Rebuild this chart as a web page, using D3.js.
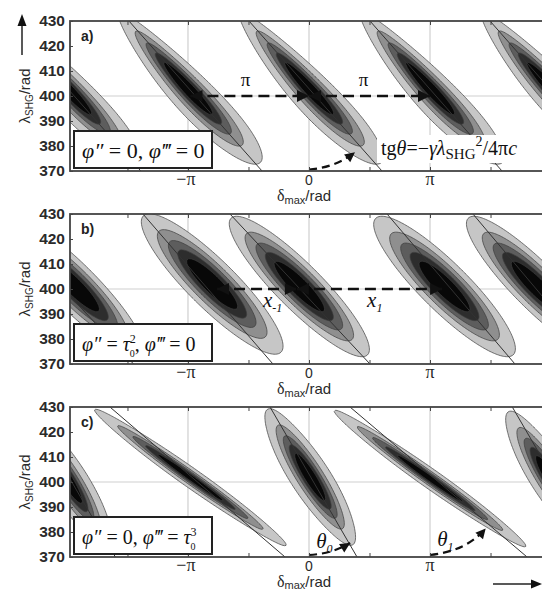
<!DOCTYPE html>
<html>
<head>
<meta charset="utf-8">
<script src="https://cdn.jsdelivr.net/npm/d3@7"></script>
<style>
  body { margin: 0; background: #fff; }
  svg { display: block; }
</style>
</head>
<body>
<svg id="chart" width="542" height="591"></svg>
<script>
const PI = Math.PI;

// δ_max ticks (units of π), gridlines and labelled ticks
const xTickPi = [-1.5, -1, -0.5, 0, 0.5, 1, 1.5];
const xGridPi = [-1, 0, 1];
const xLabelText = ["−π", "0", "π"];
// λ_SHG ticks (nm)
const yTicks = [370, 380, 390, 400, 410, 420, 430];
const yGrid = [400];

// contour levels (fraction of peak) and their fills
const contourLevels = [0.08, 0.22, 0.38, 0.55, 0.72];
const contourFills = ["#c6c6c6", "#8f8f8f", "#5d5d5d", "#2d2d2d", "#080808"];

// spectrogram lobes:
// [δ centre / π, λ centre (nm), σ_λ (nm), σ_δ (rad), tilt (rad/nm), amplitude, taper, halo share]
const lobesA = [
  [-2, 403, 12, 0.20, 0.0576, 1, 0.12, 0.35],
  [-1, 403, 12, 0.20, 0.0576, 1, 0.12, 0.35],
  [ 0, 403, 12, 0.20, 0.0576, 1, 0.12, 0.35],
  [ 1, 403, 12, 0.20, 0.0576, 1, 0.12, 0.35],
  [ 2, 403, 12, 0.20, 0.0576, 1, 0.12, 0.35]
];
const lobesB = [
  [-1.94, 401, 12.5, 0.36, 0.058, 1, 0, 0],
  [-0.80, 402, 12.5, 0.38, 0.058, 1, 0, 0],
  [-0.08, 401, 12.5, 0.36, 0.058, 1, 0, 0],
  [ 1.12, 401, 12.5, 0.38, 0.058, 1, 0, 0],
  [ 1.88, 401, 12.5, 0.36, 0.058, 1, 0, 0]
];
const lobesC = [
  [-2.00, 401,   11, 0.18, 0.0383, 1, 0, 0.3],
  [-0.98, 401.8, 11, 0.13, 0.090,  1, 0, 0.3],
  [ 0.01, 402,   11, 0.18, 0.0383, 1, 0, 0.3],
  [ 1.00, 401.4, 11, 0.13, 0.090,  1, 0, 0.3],
  [ 2.00, 401,   11, 0.18, 0.0383, 1, 0, 0.3]
];

// tilt lines: [δ/π at λ=430, δ/π at λ=370]
const linesA = [[-2.49, -1.39], [-1.488, -0.388], [-0.496, 0.603], [0.504, 1.595], [1.496, 2.587]];
const linesB = [[-2.61, -1.45], [-1.372, -0.298], [-0.653, 0.504], [0.645, 1.702], [1.355, 2.40]];
const linesC = [[-2.32, -1.60], [-1.645, -0.198], [-0.322, 0.397], [0.339, 1.802], [1.68, 2.40]];

// dashed double-headed arrows at λ = 400: [from δ/π, to δ/π]
const spansA = [[-0.98, 0], [0, 1]];
const spansB = [[-0.76, -0.1], [-0.1, 1.1]];

// curved angle arrows: [start, control, end] as [δ/π, λ]
const arcsA = [[[0, 370.6], [0.22, 371.4], [0.38, 377.5]]];
const arcsC = [
  [[0.0, 370.8], [0.2, 371.4], [0.34, 375.6]],
  [[1.0, 370.8], [1.3, 372.3], [1.46, 381.4]]
];

const svg = d3.select("#chart");
const plotLeft = 70, plotRight = 548, plotH = 150;
const x = d3.scaleLinear().domain([-1.975 * PI, 1.975 * PI]).range([plotLeft, plotRight]);

const serif = "'Liberation Serif', 'DejaVu Serif', serif";
const sans = "'Liberation Sans', Arial, sans-serif";

// sheared Gaussian lobes, each a narrow core plus a wider halo across δ
function field(lobes, d, l) {
  let s = 0;
  for (const [cd, cl, sl, sd, k, a, t, h] of lobes) {
    const v = l - cl;
    const u = d - cd * PI + k * v;
    const w = sd * Math.exp(-t * v / sl);
    const core = Math.exp(-0.5 * (v * v / (sl * sl) + u * u / (w * w)));
    const sl2 = sl * 1.3, w2 = w * 2;
    const halo = Math.exp(-0.5 * (v * v / (sl2 * sl2) + u * u / (w2 * w2)));
    s += a * ((1 - h) * core + h * halo);
  }
  return s;
}

function arrowHead(g, tip, from, len, half) {
  const dx = tip[0] - from[0], dy = tip[1] - from[1];
  const n = Math.hypot(dx, dy) || 1;
  const ux = dx / n, uy = dy / n;
  const bx = tip[0] - ux * len, by = tip[1] - uy * len;
  g.append("path")
    .attr("d", `M${tip[0]},${tip[1]}L${bx - uy * half},${by + ux * half}L${bx + uy * half},${by - ux * half}Z`)
    .attr("fill", "#111");
}

const panels = [
  { key: "a)", top: 21, lobes: lobesA, lines: linesA, spans: spansA, arcs: arcsA },
  { key: "b)", top: 214, lobes: lobesB, lines: linesB, spans: spansB, arcs: [] },
  { key: "c)", top: 407, lobes: lobesC, lines: linesC, spans: [], arcs: arcsC }
];

panels.forEach((p, idx) => {
  const y = d3.scaleLinear().domain([370, 430]).range([p.top + plotH, p.top]);
  const g = svg.append("g");
  const clipId = "clip" + idx;
  svg.append("clipPath").attr("id", clipId)
    .append("rect").attr("x", plotLeft).attr("y", p.top)
    .attr("width", plotRight - plotLeft).attr("height", plotH);
  const plot = g.append("g").attr("clip-path", `url(#${clipId})`);

  // grid
  plot.selectAll(".gx").data(xGridPi).join("line")
    .attr("x1", d => x(d * PI)).attr("x2", d => x(d * PI))
    .attr("y1", p.top).attr("y2", p.top + plotH)
    .attr("stroke", "#cfcfcf").attr("stroke-width", 1.2);
  plot.selectAll(".gy").data(yGrid).join("line")
    .attr("x1", plotLeft).attr("x2", plotRight)
    .attr("y1", d => y(d)).attr("y2", d => y(d))
    .attr("stroke", "#cfcfcf").attr("stroke-width", 1.2);

  // sampled intensity grid -> filled contours
  const step = 1.5;
  const nx = Math.ceil((plotRight - plotLeft) / step) + 2;
  const ny = Math.ceil(plotH / step) + 2;
  const values = new Float64Array(nx * ny);
  for (let j = 0; j < ny; j++) {
    const lam = y.invert(p.top + j * step);
    for (let i = 0; i < nx; i++) {
      values[j * nx + i] = field(p.lobes, x.invert(plotLeft + i * step), lam);
    }
  }
  const bands = d3.contours().size([nx, ny]).thresholds(contourLevels)(values);
  const proj = d3.geoIdentity().scale(step).translate([plotLeft - step / 2, p.top - step / 2]);
  const gp = d3.geoPath(proj);
  plot.selectAll(".band").data(bands).join("path")
    .attr("d", gp)
    .attr("fill", (d, i) => contourFills[i])
    .attr("stroke", "#3c3c3c").attr("stroke-width", 0.7);

  // tilt lines
  plot.selectAll(".tilt").data(p.lines).join("line")
    .attr("x1", d => x(d[0] * PI)).attr("y1", y(430))
    .attr("x2", d => x(d[1] * PI)).attr("y2", y(370))
    .attr("stroke", "#333").attr("stroke-width", 1);

  // dashed double arrows
  p.spans.forEach(([a, b]) => {
    const yy = y(400);
    plot.append("line")
      .attr("x1", x(a * PI)).attr("x2", x(b * PI)).attr("y1", yy).attr("y2", yy)
      .attr("stroke", "#111").attr("stroke-width", 2.6).attr("stroke-dasharray", "11,6");
    arrowHead(plot, [x(a * PI), yy], [x(b * PI), yy], 12, 6);
    arrowHead(plot, [x(b * PI), yy], [x(a * PI), yy], 12, 6);
  });

  // angle arcs
  p.arcs.forEach(([s, c, e]) => {
    const P = pt => [x(pt[0] * PI), y(pt[1])];
    const ps = P(s), pc = P(c), pe = P(e);
    const path = d3.path();
    path.moveTo(ps[0], ps[1]);
    path.quadraticCurveTo(pc[0], pc[1], pe[0], pe[1]);
    plot.append("path").attr("d", path.toString())
      .attr("fill", "none").attr("stroke", "#111").attr("stroke-width", 2.2)
      .attr("stroke-dasharray", "8,5");
    arrowHead(plot, pe, pc, 10, 5);
  });

  // frame
  g.append("rect").attr("x", plotLeft).attr("y", p.top)
    .attr("width", plotRight - plotLeft).attr("height", plotH)
    .attr("fill", "none").attr("stroke", "#444").attr("stroke-width", 1.8);

  // inner ticks
  const tx = xTickPi.map(v => v * PI);
  g.append("g").attr("transform", `translate(0,${p.top + plotH})`)
    .call(d3.axisBottom(x).tickValues(tx).tickSize(-4).tickFormat(""))
    .call(a => a.select(".domain").remove())
    .selectAll("line").attr("stroke", "#444");
  g.append("g").attr("transform", `translate(0,${p.top})`)
    .call(d3.axisTop(x).tickValues(tx).tickSize(-4).tickFormat(""))
    .call(a => a.select(".domain").remove())
    .selectAll("line").attr("stroke", "#444");
  const ya = g.append("g").attr("transform", `translate(${plotLeft},0)`)
    .call(d3.axisLeft(y).tickValues(yTicks).tickSize(-3).tickPadding(5));
  ya.select(".domain").remove();
  ya.selectAll("line").attr("stroke", "#444");
  ya.selectAll("text").attr("font-family", sans).attr("font-size", 15.5)
    .attr("fill", "#2a2a2a").attr("font-weight", 600);

  // x tick labels
  g.selectAll(".xl").data(xGridPi).join("text")
    .attr("x", d => x(d * PI) + (d === -1 ? -2 : 0)).attr("y", p.top + plotH + 13.5)
    .attr("text-anchor", "middle")
    .attr("font-family", (d) => d === 0 ? sans : serif)
    .attr("font-size", (d) => d === 0 ? 14 : 18)
    .attr("fill", "#2a2a2a")
    .text((d, i) => xLabelText[i]);

  // x title
  const xt = g.append("text").attr("x", 277).attr("y", Math.min(p.top + plotH + 30, 586.5))
    .attr("font-family", sans).attr("font-size", 15).attr("fill", "#2a2a2a");
  xt.append("tspan").attr("font-family", serif).attr("font-size", 16).text("δ");
  xt.append("tspan").attr("font-size", 11).attr("dy", 2.5).text("max");
  xt.append("tspan").attr("dy", -2.5).text("/rad");

  // y title
  const yt = g.append("text")
    .attr("transform", `translate(30,${p.top + plotH / 2}) rotate(-90)`)
    .attr("text-anchor", "middle")
    .attr("font-family", sans).attr("font-size", 15).attr("fill", "#2a2a2a");
  yt.append("tspan").text("λ");
  yt.append("tspan").attr("font-size", 10).attr("dy", 3).text("SHG");
  yt.append("tspan").attr("dy", -3).text("/rad");

  // panel letter
  g.append("text").attr("x", 81).attr("y", p.top + 20)
    .attr("font-family", sans).attr("font-weight", "bold").attr("font-size", 14)
    .attr("fill", "#222").text(p.key);

  // parameter box
  g.append("rect").attr("x", 74).attr("y", p.top + 110).attr("width", 138).attr("height", 37)
    .attr("fill", "#fff").attr("stroke", "#222").attr("stroke-width", 2);
  const lt = g.append("text").attr("x", 82).attr("y", p.top + 137)
    .attr("font-family", serif).attr("font-size", 22).attr("fill", "#111");
  if (idx === 0) {
    lt.append("tspan").attr("font-style", "italic").text("φ″");
    lt.append("tspan").text(" = 0, ");
    lt.append("tspan").attr("font-style", "italic").text("φ‴");
    lt.append("tspan").text(" = 0");
  } else if (idx === 1) {
    lt.attr("font-size", 20);
    lt.append("tspan").attr("font-style", "italic").text("φ″");
    lt.append("tspan").text(" = ");
    lt.append("tspan").attr("font-style", "italic").text("τ");
    lt.append("tspan").attr("font-size", 12).attr("dy", -8).text("2");
    lt.append("tspan").attr("font-size", 10).attr("dx", -6).attr("dy", 14).text("0");
    lt.append("tspan").attr("dy", -6).text(", ");
    lt.append("tspan").attr("font-style", "italic").text("φ‴");
    lt.append("tspan").text(" = 0");
  } else {
    lt.attr("font-size", 20);
    lt.append("tspan").attr("font-style", "italic").text("φ″");
    lt.append("tspan").text(" = 0, ");
    lt.append("tspan").attr("font-style", "italic").text("φ‴");
    lt.append("tspan").text(" = ");
    lt.append("tspan").attr("font-style", "italic").text("τ");
    lt.append("tspan").attr("font-size", 12).attr("dy", -8).text("3");
    lt.append("tspan").attr("font-size", 10).attr("dx", -6).attr("dy", 14).text("0");
  }

  // annotations
  if (idx === 0) {
    [[-0.5, 0], [0.5, 0]].forEach(([d]) => {
      g.append("text").attr("x", x(d * PI) + (d < 0 ? -3 : -6)).attr("y", y(400) - 10)
        .attr("text-anchor", "middle").attr("font-family", serif).attr("font-size", 19)
        .attr("fill", "#111").text("π");
    });
    // formula on a white patch
    g.append("rect").attr("x", 377).attr("y", p.top + 114).attr("width", 170).attr("height", 28)
      .attr("fill", "#fff");
    const f = g.append("text").attr("x", 381).attr("y", p.top + 134)
      .attr("font-family", serif).attr("font-size", 20).attr("fill", "#111");
    f.append("tspan").text("tg");
    f.append("tspan").attr("font-style", "italic").text("θ");
    f.append("tspan").text("=−");
    f.append("tspan").attr("font-style", "italic").text("γλ");
    f.append("tspan").attr("font-size", 15).attr("dy", 4).text("SHG");
    f.append("tspan").attr("font-size", 14).attr("dy", -13).text("2");
    f.append("tspan").attr("dy", 9).text("/4π");
    f.append("tspan").attr("font-style", "italic").text("c");
  }
  if (idx === 1) {
    const lab = (xx, sub) => {
      const t = g.append("text").attr("x", xx).attr("y", y(400) + 18)
        .attr("font-family", serif).attr("font-style", "italic").attr("font-size", 21).attr("fill", "#111");
      t.append("tspan").text("x");
      t.append("tspan").attr("font-size", 12).attr("dy", 5).text(sub);
    };
    lab(x(-0.38 * PI), "-1");
    lab(x(0.48 * PI), "1");
  }
  if (idx === 2) {
    const lab = (xx, yy, sub) => {
      const t = g.append("text").attr("x", xx).attr("y", yy)
        .attr("font-family", serif).attr("font-style", "italic").attr("font-size", 21).attr("fill", "#111");
      t.append("tspan").text("θ");
      t.append("tspan").attr("font-size", 12).attr("dy", 5).text(sub);
    };
    lab(x(0.06 * PI), y(373.5), "0");
    lab(x(1.06 * PI), y(374.5), "1");
  }
});

// axis direction arrows
svg.append("line").attr("x1", 22).attr("x2", 22).attr("y1", 55).attr("y2", 24)
  .attr("stroke", "#222").attr("stroke-width", 1.5);
arrowHead(svg, [22, 14], [22, 30], 12, 4.5);
svg.append("line").attr("x1", 493).attr("x2", 532).attr("y1", 584).attr("y2", 584)
  .attr("stroke", "#222").attr("stroke-width", 1.5);
arrowHead(svg, [542, 584], [520, 584], 11, 4.5);
</script>
</body>
</html>
